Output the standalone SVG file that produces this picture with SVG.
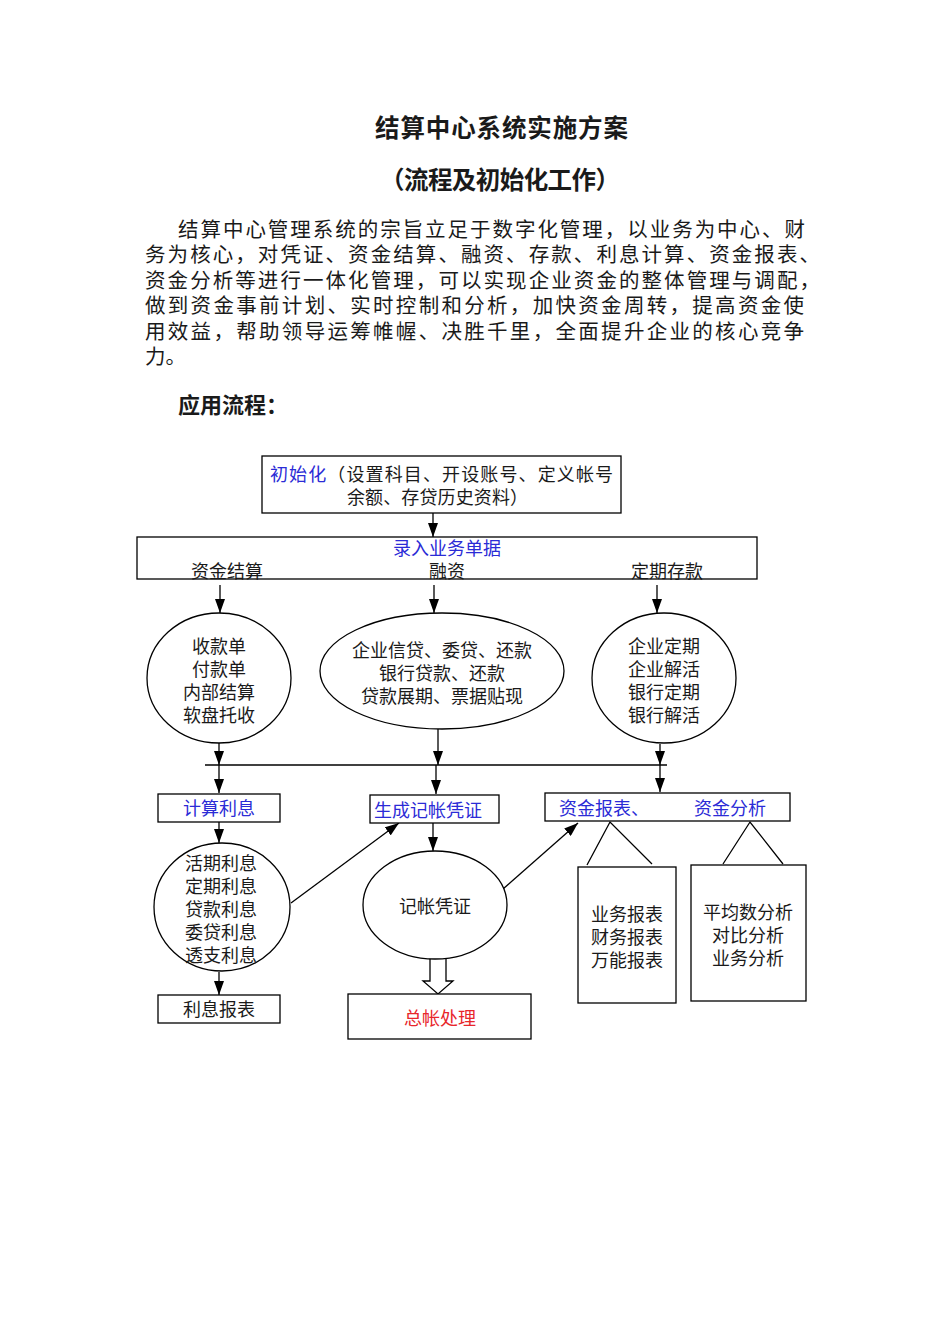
<svg xmlns="http://www.w3.org/2000/svg" width="950" height="1344" viewBox="0 0 950 1344">
<style>
text{font-family:"Noto Sans CJK SC","Noto Sans",sans-serif;fill:#1a1a1a}
.t{font-size:18px}
.m{text-anchor:middle}
.b{fill:#2b2bd6}
.r{fill:#e8262b}
.p{font-size:20.5px}
.h{font-weight:bold}
.s{fill:#fff;stroke:#000;stroke-width:1.3}
.c{fill:none;stroke:#000;stroke-width:1.3}
</style>
<defs>
<marker id="ah" viewBox="0 0 14 10" refX="14" refY="5" markerWidth="14" markerHeight="10" markerUnits="userSpaceOnUse" orient="auto">
<path d="M0,0 L14,5 L0,10 Z" fill="#000"/>
</marker>
</defs>
<rect width="950" height="1344" fill="#fff"/>
<g id="header">
<text x="375" y="137" class="h" font-size="24.5" textLength="253" lengthAdjust="spacing">结算中心系统实施方案</text>
<text x="380" y="189" class="h" font-size="24.5" textLength="240" lengthAdjust="spacing">（流程及初始化工作）</text>
<text x="178" y="237" class="p" textLength="627" lengthAdjust="spacing">结算中心管理系统的宗旨立足于数字化管理，以业务为中心、财</text>
<text x="145" y="262" class="p" textLength="675" lengthAdjust="spacing">务为核心，对凭证、资金结算、融资、存款、利息计算、资金报表、</text>
<text x="145" y="288" class="p" textLength="675" lengthAdjust="spacing">资金分析等进行一体化管理，可以实现企业资金的整体管理与调配，</text>
<text x="145" y="313" class="p" textLength="659" lengthAdjust="spacing">做到资金事前计划、实时控制和分析，加快资金周转，提高资金使</text>
<text x="145" y="339" class="p" textLength="659" lengthAdjust="spacing">用效益，帮助领导运筹帷幄、决胜千里，全面提升企业的核心竞争</text>
<text x="145" y="364" class="p">力。</text>
<text x="178" y="413" class="h" font-size="22">应用流程：</text>
</g>
<g id="connectors">
<line x1="433" y1="513" x2="433" y2="537" class="c" marker-end="url(#ah)"/>
<line x1="220" y1="585" x2="220" y2="613" class="c" marker-end="url(#ah)"/>
<line x1="434" y1="585" x2="434" y2="613" class="c" marker-end="url(#ah)"/>
<line x1="657" y1="585" x2="657" y2="613" class="c" marker-end="url(#ah)"/>
<line x1="219" y1="743" x2="219" y2="765" class="c" marker-end="url(#ah)"/>
<line x1="438" y1="729" x2="438" y2="765" class="c" marker-end="url(#ah)"/>
<line x1="660" y1="744" x2="660" y2="765" class="c" marker-end="url(#ah)"/>
<line x1="205" y1="765" x2="667" y2="765" class="c"/>
<line x1="219" y1="765" x2="219" y2="793" class="c" marker-end="url(#ah)"/>
<line x1="436" y1="765" x2="436" y2="794" class="c" marker-end="url(#ah)"/>
<line x1="660" y1="765" x2="660" y2="792" class="c" marker-end="url(#ah)"/>
<line x1="219" y1="822" x2="219" y2="843" class="c" marker-end="url(#ah)"/>
<line x1="219" y1="972" x2="219" y2="995" class="c" marker-end="url(#ah)"/>
<line x1="291" y1="903" x2="399" y2="823" class="c" marker-end="url(#ah)"/>
<line x1="433" y1="823" x2="433" y2="851" class="c" marker-end="url(#ah)"/>
<line x1="503" y1="889" x2="578" y2="823" class="c" marker-end="url(#ah)"/>
<path d="M430,958 L430,981 L423,981 L438,994 L453,981 L446,981 L446,958" class="s"/>
<polyline points="587,865 610,822 652,864" class="c"/>
<polyline points="723,864 750,822 783,864" class="c"/>
</g>
<g id="init">
<rect x="262" y="456" width="359" height="57" class="s"/>
<text x="270" y="481" class="t" textLength="343" lengthAdjust="spacing"><tspan class="b">初始化</tspan>（设置科目、开设账号、定义帐号</text>
<text x="347" y="504" class="t" textLength="181" lengthAdjust="spacing">余额、存贷历史资料）</text>
</g>
<g id="entry">
<rect x="137" y="537" width="620" height="42" class="s"/>
<text x="447" y="555" class="t m b">录入业务单据</text>
<text x="227" y="578" class="t m">资金结算</text>
<text x="447" y="578" class="t m">融资</text>
<text x="667" y="578" class="t m">定期存款</text>
</g>
<g id="settle">
<ellipse cx="219" cy="678" rx="72" ry="65" class="s"/>
<text x="219" y="653" class="t m">收款单</text>
<text x="219" y="676" class="t m">付款单</text>
<text x="219" y="699" class="t m">内部结算</text>
<text x="219" y="722" class="t m">软盘托收</text>
</g>
<g id="finance">
<ellipse cx="442" cy="671" rx="122" ry="58" class="s"/>
<text x="442" y="657" class="t m">企业信贷、委贷、还款</text>
<text x="442" y="680" class="t m">银行贷款、还款</text>
<text x="442" y="703" class="t m">贷款展期、票据贴现</text>
</g>
<g id="deposit">
<ellipse cx="664" cy="678" rx="72" ry="65" class="s"/>
<text x="664" y="653" class="t m">企业定期</text>
<text x="664" y="676" class="t m">企业解活</text>
<text x="664" y="699" class="t m">银行定期</text>
<text x="664" y="722" class="t m">银行解活</text>
</g>
<g id="calc-interest">
<rect x="158" y="794" width="122" height="28" class="s"/>
<text x="219" y="815" class="t m b">计算利息</text>
</g>
<g id="gen-voucher">
<rect x="370" y="795" width="129" height="28" class="s"/>
<text x="374" y="817" class="t b">生成记帐凭证</text>
</g>
<g id="fund-report">
<rect x="545" y="793" width="245" height="28" class="s"/>
<text x="559" y="815" class="t b">资金报表、</text>
<text x="694" y="815" class="t b">资金分析</text>
</g>
<g id="interest-types">
<ellipse cx="222" cy="907" rx="68" ry="64" class="s"/>
<text x="185" y="870" class="t">活期利息</text>
<text x="185" y="893" class="t">定期利息</text>
<text x="185" y="916" class="t">贷款利息</text>
<text x="185" y="939" class="t">委贷利息</text>
<text x="185" y="962" class="t">透支利息</text>
</g>
<g id="interest-report">
<rect x="158" y="995" width="122" height="28" class="s"/>
<text x="219" y="1016" class="t m">利息报表</text>
</g>
<g id="voucher">
<ellipse cx="435" cy="905" rx="72" ry="54" class="s"/>
<text x="435" y="913" class="t m">记帐凭证</text>
</g>
<g id="ledger">
<rect x="348" y="994" width="183" height="45" class="s"/>
<text x="440" y="1025" class="t m r">总帐处理</text>
</g>
<g id="reports">
<rect x="578" y="867" width="98" height="136" class="s"/>
<text x="627" y="921" class="t m">业务报表</text>
<text x="627" y="944" class="t m">财务报表</text>
<text x="627" y="967" class="t m">万能报表</text>
</g>
<g id="analysis">
<rect x="691" y="865" width="115" height="136" class="s"/>
<text x="748" y="919" class="t m">平均数分析</text>
<text x="748" y="942" class="t m">对比分析</text>
<text x="748" y="965" class="t m">业务分析</text>
</g>
</svg>
